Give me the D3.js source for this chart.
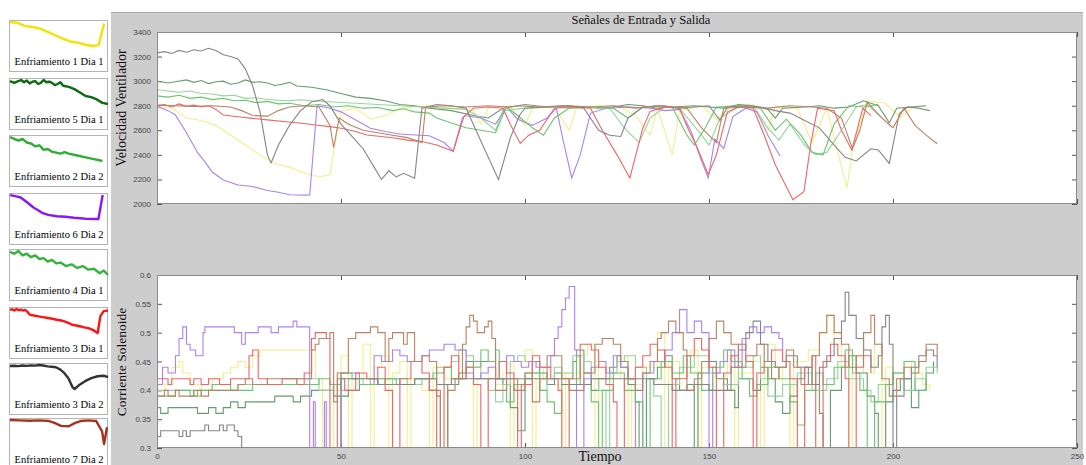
<!DOCTYPE html>
<html>
<head>
<meta charset="utf-8" />
<title>Señales de Entrada y Salida</title>
<style>
body { margin: 0; background: #fff; }
svg { display: block; font-family: "Liberation Serif", "Times New Roman", serif; }
.tick text { font-family: "Liberation Sans", Arial, sans-serif; font-size: 8px; fill: #444; }
.tick line { stroke: #555; }
.axis path { stroke: none; }
</style>
</head>
<body>
<script src="https://cdn.jsdelivr.net/npm/d3@7"></script>
<script>
// ---- data ----
var names = ["Enfriamiento 1 Dia 1", "Enfriamiento 5 Dia 1", "Enfriamiento 2 Dia 2", "Enfriamiento 6 Dia 2",
             "Enfriamiento 4 Dia 1", "Enfriamiento 3 Dia 1", "Enfriamiento 3 Dia 2", "Enfriamiento 7 Dia 2"];
var sparkColors = ["#f0e400", "#0b6b12", "#2fae35", "#8a17f5", "#33b53a", "#ff1414", "#333333", "#a8321f"];
var lineColors  = ["#f4ee8c", "#669c70", "#95d4a0", "#aa82f2", "#6cc66c", "#f26464", "#858585", "#bd8262"];
var sparkEnd = [52, 70, 70, 46, 70, 90, 47, 50];
var xTicks = [0, 50, 100, 150, 200, 250];
var velTicks = [2000, 2200, 2400, 2600, 2800, 3000, 3200, 3400];
var corTicks = [0.3, 0.35, 0.4, 0.45, 0.5, 0.55, 0.6];

// Velocidad Ventilador  [tiempo, valor]
var velYellow = [[0,2800],[4,2780],[8,2700],[12,2680],[16,2640],[20,2560],[24,2480],[28,2400],[32,2330],[36,2300],[40,2250],[44,2220],[47,2240],[49,2600],[50,2760],[54,2780],[58,2690],[62,2720],[66,2780],[70,2790],[74,2800],[78,2780],[82,2780],[86,2760],[88,2650],[90,2780],[96,2800],[100,2640],[102,2780],[108,2790],[112,2600],[114,2780],[120,2800],[126,2790],[130,2720],[134,2560],[136,2780],[140,2400],[142,2760],[148,2800],[152,2690],[156,2800],[162,2810],[166,2600],[168,2790],[174,2780],[178,2500],[182,2780],[186,2300],[187.5,2130],[189,2450],[193,2840],[198,2820],[202,2700],[205,2780],[209,2800]];
var velDarkGreen = [[0,3000],[3,2985],[5,2995],[8,3010],[10,2990],[12,3005],[14,2980],[16,2995],[18,3000],[20,2975],[22,2985],[24,3010],[26,2990],[28,2995],[30,2985],[32,2965],[34,2975],[36,2990],[38,2960],[42,2950],[46,2930],[50,2900],[54,2870],[58,2860],[62,2840],[66,2810],[70,2800],[74,2780],[80,2760],[86,2720],[90,2700],[94,2780],[98,2800],[104,2790],[110,2800],[116,2790],[120,2780],[124,2790],[128,2810],[132,2800],[136,2780],[140,2790],[146,2800],[150,2790],[154,2780],[158,2810],[162,2800],[166,2770],[168,2700],[170,2780],[176,2790],[180,2800],[184,2780],[188,2790],[192,2840],[196,2800],[199,2660],[201,2780],[205,2790],[209,2800]];
var velLightGreen = [[0,2930],[3,2920],[6,2910],[9,2920],[12,2900],[15,2895],[18,2880],[21,2885],[24,2860],[27,2865],[30,2850],[33,2845],[36,2840],[39,2848],[42,2840],[48,2830],[54,2820],[60,2810],[66,2800],[72,2790],[78,2780],[84,2770],[88,2700],[92,2600],[94,2760],[100,2780],[106,2790],[112,2780],[118,2790],[123,2780],[127,2620],[131,2500],[134,2700],[138,2790],[142,2780],[148,2560],[150,2480],[153,2700],[158,2790],[162,2800],[166,2620],[169,2520],[172,2650],[176,2480],[179,2400],[182,2420],[186,2600],[190,2790],[193,2810],[197,2700]];
var velPurple = [[0,2795],[3,2760],[5,2725],[8,2580],[11,2420],[13,2345],[15,2260],[18,2196],[22,2155],[26,2142],[30,2110],[33,2095],[36,2075],[40,2072],[41.5,2073],[43.5,2800],[47,2780],[50,2750],[54,2684],[58,2616],[62,2590],[66,2570],[70,2562],[74,2555],[78,2500],[80.5,2430],[83.5,2720],[88,2700],[92,2650],[95,2790],[98,2690],[102,2640],[106,2700],[108.5,2780],[110.5,2500],[112.7,2212],[115,2400],[117.8,2740],[122,2780],[128,2790],[134,2780],[138,2760],[142,2770],[145,2600],[148,2350],[149.8,2212],[151.6,2530],[154,2450],[156.5,2712],[160,2780],[163,2750],[166,2560],[169.3,2390]];
var velGreen = [[0,2880],[3,2870],[6,2885],[9,2860],[12,2870],[15,2850],[18,2860],[21,2840],[24,2845],[27,2825],[30,2835],[33,2815],[36,2820],[40,2800],[44,2810],[48,2790],[52,2800],[56,2780],[60,2785],[64,2760],[67,2775],[70,2750],[74,2740],[76,2700],[80,2660],[84,2620],[88,2600],[92,2580],[94.9,2790],[98,2720],[102,2620],[105,2560],[108,2700],[112,2780],[118,2790],[124,2780],[128,2700],[132,2790],[136,2800],[140,2790],[144,2560],[146,2480],[149,2620],[152,2790],[158,2800],[164,2780],[168,2600],[171,2690],[175,2560],[178,2420],[181,2400],[184,2650],[188,2800],[192,2790],[196,2810]];
var velRed = [[0,2800],[2,2810],[4,2790],[6,2815],[8,2795],[10,2805],[12,2790],[14,2800],[16,2770],[18,2725],[22,2710],[26,2697],[30,2685],[35,2670],[40,2655],[43,2643],[47,2630],[50,2616],[54,2590],[57,2562],[61,2550],[65,2535],[68,2520],[72,2508],[76,2480],[80.5,2430],[83,2700],[86,2780],[90,2790],[94,2780],[96,2650],[98.7,2493],[101,2560],[104,2600],[108,2780],[112,2790],[117.8,2780],[121,2600],[125,2400],[128.5,2212],[132,2618],[134,2754],[138,2790],[142,2780],[144.5,2600],[146.5,2480],[149.8,2240],[152,2400],[155,2750],[158,2790],[162,2780],[165,2560],[168,2320],[172.8,2035],[175.8,2100],[177.6,2480],[179.5,2780],[184,2760],[186,2600],[188.8,2440],[191.8,2780],[194,2720]];
var velGray = [[0,3230],[2,3240],[4,3225],[6,3250],[8,3235],[10,3255],[12,3245],[14,3268],[16,3250],[18,3215],[20,3200],[22,3180],[24,3100],[26,2960],[28,2750],[30,2400],[31,2335],[33,2480],[36,2640],[39,2760],[42,2830],[45,2850],[47,2800],[50,2650],[53,2550],[56,2450],[59,2300],[61,2200],[63,2270],[65,2220],[67,2250],[70,2210],[72,2780],[76,2810],[80,2800],[84,2780],[86.4,2619],[92.8,2198],[96,2537],[98.6,2727],[100,2780],[106,2790],[112,2800],[116,2780],[120,2600],[123,2560],[126,2550],[128,2700],[132,2790],[138,2800],[142,2780],[146,2790],[150,2800],[153,2680],[155,2790],[160,2800],[164,2790],[168,2760],[172,2740],[176,2680],[180,2620],[184,2480],[187,2380],[190,2350],[194,2450],[196,2440],[199,2330],[201.7,2735],[204,2790],[207,2780],[210,2760]];
var velBrown = [[0,2805],[5,2800],[10,2795],[15,2800],[20,2790],[23,2760],[26,2720],[30,2715],[33,2760],[36,2790],[40,2800],[44,2790],[47,2640],[48,2460],[49.5,2700],[52,2650],[56,2600],[60,2580],[64,2560],[68,2540],[72,2500],[73,2790],[78,2800],[84,2790],[90,2800],[96,2790],[100,2810],[106,2790],[112,2800],[118,2790],[124,2800],[130,2780],[136,2800],[140,2790],[144,2780],[148,2620],[152,2500],[154,2780],[160,2790],[166,2780],[172,2800],[178,2790],[182,2780],[186,2700],[189,2450],[191,2600],[193,2830],[197,2700],[200,2620],[203,2780],[206,2640],[209,2560],[212,2490]];

// Corriente Solenoide  [tiempo, valor]  (escalones)
var corYellow = [[0,0.40],[2,0.41],[4,0.44],[6,0.45],[7,0.43],[9,0.41],[12,0.40],[15,0.42],[18,0.43],[20,0.44],[22,0.45],[24,0.44],[26,0.46],[28,0.47],[43,0.42],[45,0.30],[46,0.25],[48,0.40],[50,0.46],[52,0.25],[53,0.42],[56,0.48],[58,0.25],[59,0.44],[61,0.46],[63,0.25],[64,0.43],[66,0.45],[68,0.25],[69,0.42],[72,0.40],[74,0.25],[75,0.44],[78,0.42],[80,0.45],[82,0.43],[84,0.46],[86,0.25],[87,0.42],[90,0.44],[92,0.41],[94,0.43],[96,0.25],[97,0.45],[100,0.47],[102,0.25],[103,0.42],[105,0.44],[108,0.41],[110,0.25],[111,0.43],[115,0.46],[117,0.48],[119,0.25],[120,0.44],[123,0.42],[126,0.46],[128,0.25],[129,0.41],[132,0.44],[136,0.50],[138,0.25],[139,0.45],[142,0.43],[145,0.47],[147,0.25],[148,0.44],[152,0.42],[155,0.46],[157,0.25],[158,0.43],[162,0.45],[164,0.25],[165,0.48],[168,0.44],[170,0.41],[172,0.25],[173,0.45],[177,0.47],[180,0.50],[182,0.53],[184,0.48],[186,0.44],[188,0.25],[189,0.46],[192,0.43],[195,0.48],[197,0.25],[198,0.44],[200,0.42],[203,0.45],[205,0.43],[208,0.41],[210,0.40]];
var corDarkGreen = [[0,0.37],[1,0.36],[3,0.37],[8,0.37],[11,0.36],[14,0.37],[16,0.36],[18,0.37],[20,0.38],[22,0.37],[24,0.38],[30,0.38],[32,0.39],[37,0.38],[39,0.39],[42,0.40],[48,0.39],[52,0.40],[55,0.41],[58,0.42],[60,0.41],[62,0.42],[66,0.41],[70,0.42],[74,0.40],[76,0.39],[77,0.25],[79,0.41],[82,0.43],[84,0.45],[86,0.44],[88,0.45],[92,0.42],[94,0.41],[96,0.37],[98,0.33],[100,0.42],[102,0.45],[104,0.43],[106,0.41],[108,0.43],[110,0.42],[113,0.45],[114,0.47],[116,0.43],[118,0.40],[120,0.42],[123,0.44],[125,0.46],[126,0.44],[128,0.41],[130,0.38],[131,0.25],[133,0.42],[136,0.44],[138,0.46],[140,0.42],[142,0.40],[144,0.41],[146,0.25],[147,0.43],[150,0.45],[152,0.42],[155,0.40],[157,0.37],[158,0.42],[162,0.40],[164,0.44],[166,0.42],[168,0.38],[170,0.36],[172,0.39],[174,0.42],[176,0.44],[178,0.41],[180,0.36],[181,0.25],[183,0.40],[186,0.44],[188,0.46],[190,0.43],[193,0.39],[195,0.36],[196,0.25],[198,0.38],[200,0.40],[202,0.42],[205,0.37],[207,0.40],[209,0.43],[211,0.45]];
var corLightGreen = [[0,0.40],[4,0.40],[10,0.39],[12,0.40],[16,0.40],[22,0.41],[30,0.41],[38,0.42],[42,0.42],[44,0.40],[48,0.41],[50,0.40],[52,0.42],[56,0.41],[58,0.42],[62,0.41],[64,0.42],[68,0.41],[72,0.42],[76,0.44],[80,0.45],[82,0.47],[84,0.46],[86,0.44],[88,0.42],[90,0.40],[92,0.38],[94,0.41],[96,0.45],[98,0.46],[100,0.45],[102,0.43],[104,0.40],[106,0.42],[108,0.44],[110,0.43],[113,0.46],[116,0.45],[118,0.42],[120,0.40],[122,0.30],[123,0.43],[125,0.45],[127,0.46],[130,0.44],[133,0.42],[135,0.39],[137,0.25],[139,0.41],[142,0.44],[146,0.46],[150,0.43],[154,0.41],[158,0.44],[162,0.46],[164,0.42],[166,0.39],[170,0.41],[174,0.43],[178,0.40],[182,0.42],[185,0.45],[188,0.42],[192,0.40],[194,0.38],[196,0.41],[200,0.43],[203,0.40],[206,0.42],[209,0.44],[212,0.43]];
var corPurple = [[0,0.41],[1.5,0.44],[3,0.43],[5,0.46],[6,0.49],[7,0.51],[8,0.48],[9,0.47],[10.5,0.46],[12.5,0.50],[13,0.51],[21,0.50],[23,0.48],[24,0.50],[27.5,0.51],[31,0.50],[33,0.51],[37,0.52],[38,0.51],[41.5,0.25],[42.5,0.38],[43,0.25],[45.5,0.38],[46,0.25],[50,0.43],[55,0.41],[59,0.46],[61,0.45],[64,0.47],[66,0.46],[68,0.45],[72,0.46],[74,0.47],[78,0.48],[81,0.47],[84,0.43],[86,0.42],[88,0.43],[90,0.44],[92,0.42],[95,0.46],[97,0.45],[99,0.44],[101,0.45],[103,0.44],[107,0.46],[108,0.49],[109,0.51],[110,0.54],[111,0.56],[112,0.58],[113.5,0.47],[114,0.25],[116,0.42],[118,0.44],[120,0.45],[122,0.43],[124,0.46],[126,0.44],[128,0.42],[130,0.25],[132,0.43],[135,0.45],[138,0.47],[140,0.50],[142,0.54],[144,0.50],[146,0.52],[148,0.50],[150,0.25],[151,0.43],[153,0.45],[155,0.47],[157,0.44],[159,0.49],[161,0.51],[163,0.50],[165,0.51],[167,0.50],[169,0.49],[170,0.47]];
var corGreen = [[0,0.39],[5,0.40],[9,0.39],[11,0.40],[15,0.41],[20,0.40],[26,0.41],[33,0.41],[40,0.41],[44,0.42],[47,0.41],[50,0.43],[53,0.42],[55,0.41],[60,0.42],[65,0.41],[70,0.42],[75,0.43],[78,0.44],[80,0.42],[84,0.44],[86,0.45],[88,0.47],[90,0.45],[92,0.47],[93,0.42],[95,0.38],[97,0.41],[100,0.43],[104,0.40],[106,0.38],[108,0.36],[110,0.41],[114,0.46],[115,0.41],[118,0.38],[120,0.25],[121,0.40],[124,0.43],[127,0.40],[130,0.38],[132,0.25],[134,0.42],[137,0.45],[140,0.43],[143,0.46],[145,0.43],[148,0.40],[151,0.44],[154,0.47],[156,0.45],[159,0.42],[161,0.39],[163,0.41],[166,0.44],[169,0.42],[172,0.38],[174,0.34],[176,0.40],[179,0.43],[181,0.41],[184,0.44],[187,0.47],[189,0.43],[191,0.40],[193,0.25],[195,0.38],[198,0.41],[200,0.43],[203,0.45],[206,0.40],[209,0.42]];
var corRed = [[0,0.42],[3,0.41],[4,0.42],[9,0.41],[10,0.42],[12,0.41],[14,0.42],[17,0.41],[20,0.42],[24,0.42],[25,0.46],[26,0.47],[27.5,0.42],[30,0.41],[34,0.42],[38,0.41],[40,0.43],[42,0.49],[43,0.50],[46,0.49],[47,0.25],[49,0.42],[51,0.40],[54,0.43],[57,0.42],[60,0.44],[62,0.40],[64,0.25],[66,0.42],[69,0.45],[72,0.43],[74,0.40],[76,0.25],[78,0.44],[80,0.46],[82,0.42],[84,0.44],[86,0.41],[88,0.25],[90,0.42],[93,0.45],[95,0.43],[97,0.40],[98,0.25],[99,0.41],[102,0.46],[104,0.44],[107,0.42],[109,0.40],[110,0.25],[112,0.42],[115,0.48],[118,0.47],[120,0.44],[122,0.41],[124,0.38],[125,0.25],[127,0.42],[130,0.44],[132,0.46],[134,0.48],[136,0.47],[138,0.44],[140,0.25],[141,0.42],[144,0.46],[146,0.49],[148,0.47],[150,0.44],[152,0.25],[154,0.43],[156,0.46],[158,0.48],[160,0.45],[162,0.25],[163,0.43],[165,0.45],[167,0.47],[170,0.45],[172,0.42],[174,0.25],[176,0.44],[178,0.46],[179,0.25],[181,0.45],[183,0.48],[185,0.46],[187,0.42],[188,0.25],[190,0.44],[192,0.46],[194,0.43]];
var corGray = [[0,0.32],[1,0.33],[6,0.32],[7,0.33],[8,0.32],[9,0.33],[13,0.34],[14,0.33],[17,0.34],[18,0.33],[19,0.34],[21,0.33],[22,0.32],[23,0.25],[50,0.42],[60,0.41],[70,0.42],[76,0.41],[80,0.42],[110,0.41],[118,0.42],[135,0.41],[140,0.40],[146,0.41],[150,0.40],[156,0.44],[158,0.47],[160,0.50],[162,0.52],[164,0.48],[166,0.45],[168,0.44],[171,0.46],[174,0.44],[177,0.41],[180,0.44],[182,0.46],[184,0.49],[186,0.52],[187,0.57],[188,0.53],[190,0.49],[192,0.47],[194,0.44],[196,0.46],[197,0.51],[198,0.53],[199,0.48],[200,0.25],[201,0.39],[203,0.42],[205,0.44],[207,0.46],[209,0.47],[211,0.46],[212,0.44]];
var corBrown = [[0,0.39],[2,0.40],[3,0.39],[5,0.40],[6,0.39],[10,0.40],[12,0.39],[14,0.40],[22,0.41],[24,0.42],[26,0.41],[30,0.42],[42,0.47],[43,0.48],[44,0.49],[47,0.50],[48,0.38],[49,0.43],[52,0.49],[54,0.50],[58,0.51],[60,0.50],[62,0.45],[63,0.49],[64,0.50],[67,0.48],[68,0.50],[70,0.45],[72,0.46],[74,0.45],[76,0.40],[77,0.25],[79,0.40],[81,0.42],[83,0.48],[84,0.51],[85,0.53],[86,0.52],[87,0.50],[89,0.51],[90,0.52],[91,0.49],[92,0.40],[95,0.42],[98,0.40],[100,0.43],[102,0.38],[104,0.42],[106,0.46],[110,0.42],[112,0.40],[116,0.43],[119,0.48],[121,0.49],[124,0.48],[126,0.45],[128,0.42],[130,0.40],[132,0.43],[134,0.45],[136,0.49],[137,0.50],[139,0.52],[141,0.50],[143,0.47],[144,0.40],[146,0.42],[148,0.45],[150,0.49],[152,0.52],[154,0.50],[156,0.48],[158,0.44],[160,0.46],[163,0.48],[165,0.45],[167,0.42],[169,0.44],[171,0.47],[173,0.44],[175,0.41],[178,0.46],[180,0.50],[182,0.53],[184,0.50],[186,0.48],[188,0.44],[190,0.46],[192,0.50],[194,0.53],[195,0.48],[197,0.42],[199,0.39],[201,0.42],[203,0.44],[205,0.43],[207,0.45],[209,0.48],[212,0.46]];

var velocidad = [velYellow, velDarkGreen, velLightGreen, velPurple, velGreen, velRed, velGray, velBrown];
var corriente = [corYellow, corDarkGreen, corLightGreen, corPurple, corGreen, corRed, corGray, corBrown];

// ---- layout ----
var width = 1086, height = 465;
var L = 157, R = 1077;
var topBox = {y0: 32, y1: 204};
var botBox = {y0: 275, y1: 448};

var svg = d3.select("body").append("svg")
    .attr("width", width)
    .attr("height", height);

// gray figure panel
svg.append("rect").attr("x", 111).attr("y", 12).attr("width", 972).attr("height", 460)
   .attr("fill", "#cdcdcd");
svg.append("line").attr("x1", 111).attr("x2", 1083).attr("y1", 12.5).attr("y2", 12.5)
   .attr("stroke", "#a8a8a8");

var x = d3.scaleLinear().domain([0, 250]).range([L, R]);
var yVel = d3.scaleLinear().domain([2000, 3400]).range([topBox.y1, topBox.y0]);
var yCor = d3.scaleLinear().domain([0.3, 0.6]).range([botBox.y1, botBox.y0]);

function drawBox(box, y, yTicks, fmt, id, showX) {
  svg.append("rect").attr("x", L).attr("y", box.y0).attr("width", R - L).attr("height", box.y1 - box.y0)
     .attr("fill", "#fff");
  svg.append("clipPath").attr("id", id).append("rect")
     .attr("x", L).attr("y", box.y0).attr("width", R - L).attr("height", box.y1 - box.y0);

  svg.append("g").attr("class", "axis").attr("transform", "translate(" + L + ",0)")
     .call(d3.axisLeft(y).tickValues(yTicks).tickSize(-5).tickPadding(6).tickFormat(fmt));
  svg.append("g").attr("class", "axis").attr("transform", "translate(" + R + ",0)")
     .call(d3.axisRight(y).tickValues(yTicks).tickSize(-5).tickFormat(""));
  svg.append("g").attr("class", "axis").attr("transform", "translate(0," + box.y0 + ")")
     .call(d3.axisTop(x).tickValues(xTicks).tickSize(-5).tickFormat(""));
  svg.append("g").attr("class", "axis").attr("transform", "translate(0," + box.y1 + ")")
     .call(d3.axisBottom(x).tickValues(xTicks).tickSize(-5).tickPadding(5)
       .tickFormat(showX ? d3.format("d") : ""));
}

drawBox(topBox, yVel, velTicks, d3.format("d"), "clipTop", false);
drawBox(botBox, yCor, corTicks, function(d) { return String(+d.toFixed(2)); }, "clipBot", true);

var lineVel = d3.line().x(function(d) { return x(d[0]); }).y(function(d) { return yVel(d[1]); });
var lineCor = d3.line().curve(d3.curveStepAfter)
    .x(function(d) { return x(d[0]); }).y(function(d) { return yCor(d[1]); });

svg.append("g").attr("clip-path", "url(#clipTop)")
  .selectAll("path").data(velocidad).enter().append("path")
    .attr("d", lineVel)
    .attr("fill", "none")
    .attr("stroke", function(d, i) { return lineColors[i]; })
    .attr("stroke-width", 1.1);

svg.append("g").attr("clip-path", "url(#clipBot)")
  .selectAll("path").data(corriente).enter().append("path")
    .attr("d", lineCor)
    .attr("fill", "none")
    .attr("stroke", function(d, i) { return lineColors[i]; })
    .attr("stroke-width", 1.1);

// box borders on top of lines
[topBox, botBox].forEach(function(box) {
  svg.append("rect").attr("x", L + 0.5).attr("y", box.y0 + 0.5).attr("width", R - L - 1).attr("height", box.y1 - box.y0 - 1)
     .attr("fill", "none").attr("stroke", "#8a8a8a");
});

// titles and axis labels
svg.append("text").attr("x", 641).attr("y", 24).attr("text-anchor", "middle")
   .attr("font-size", 12.5).attr("fill", "#111").text("Señales de Entrada y Salida");
svg.append("text").attr("transform", "translate(126,108) rotate(-90)").attr("text-anchor", "middle")
   .attr("font-size", 14).attr("fill", "#111").text("Velocidad Ventilador");
svg.append("text").attr("transform", "translate(126,362) rotate(-90)").attr("text-anchor", "middle")
   .attr("font-size", 13.5).attr("fill", "#111").text("Corriente Solenoide");
svg.append("text").attr("x", 600).attr("y", 461).attr("text-anchor", "middle")
   .attr("font-size", 14).attr("fill", "#111").text("Tiempo");

// left legend: small plot of each run
var legTop = [20, 78, 135, 193, 249, 307, 363, 418];
names.forEach(function(name, i) {
  var top = legTop[i];
  var g = svg.append("g");
  g.append("rect").attr("x", 9.5).attr("y", top + 0.5).attr("width", 98).attr("height", 51)
   .attr("fill", "#fff").attr("stroke", "#b4b4b4");
  var part = velocidad[i].filter(function(d) { return d[0] <= sparkEnd[i]; });
  var sx = d3.scaleLinear().domain([0, sparkEnd[i]]).range([10, 108]);
  var sy = d3.scaleLinear().domain(d3.extent(part, function(d) { return d[1]; })).range([top + 26, top + 2]);
  g.append("path").datum(part)
   .attr("d", d3.line().x(function(d) { return sx(d[0]); }).y(function(d) { return sy(d[1]); }))
   .attr("fill", "none").attr("stroke", sparkColors[i]).attr("stroke-width", 2.4)
   .attr("stroke-linejoin", "round");
  g.append("text").attr("x", 59).attr("y", top + 45).attr("text-anchor", "middle")
   .attr("font-size", 10.5).attr("fill", "#000").text(name);
});
</script>
</body>
</html>
